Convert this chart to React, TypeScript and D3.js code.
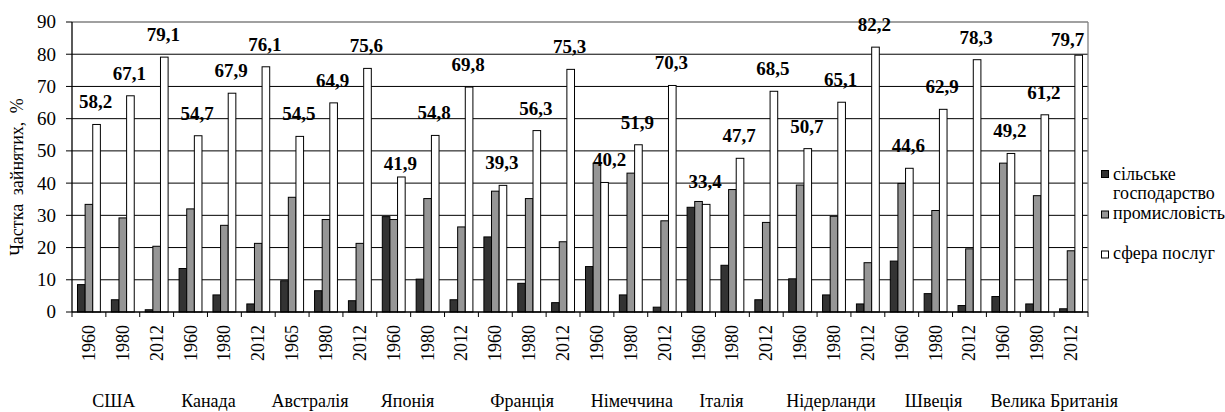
import * as d3 from 'd3'

// Частка зайнятих за секторами економіки, %
const countries = ['США', 'Канада', 'Австралія', 'Японія', 'Франція', 'Німеччина', 'Італія', 'Нідерланди', 'Швеція', 'Велика Британія']
const years = [
  '1960', '1980', '2012', '1960', '1980', '2012', '1965', '1980', '2012', '1960',
  '1980', '2012', '1960', '1980', '2012', '1960', '1980', '2012', '1960', '1980',
  '2012', '1960', '1980', '2012', '1960', '1980', '2012', '1960', '1980', '2012',
]
const agriculture = [8.5, 3.8, 0.7, 13.5, 5.3, 2.5, 9.7, 6.6, 3.5, 29.6, 10.2, 3.8, 23.3, 8.9, 2.9, 14.1, 5.3, 1.5, 32.5, 14.5, 3.8, 10.3, 5.3, 2.5, 15.8, 5.7, 2.0, 4.8, 2.5, 1.0]
const industry = [33.4, 29.2, 20.4, 32.0, 26.9, 21.3, 35.6, 28.7, 21.3, 28.7, 35.2, 26.4, 37.5, 35.2, 21.8, 46.2, 43.1, 28.3, 34.3, 38.0, 27.8, 39.4, 29.7, 15.3, 39.9, 31.5, 19.6, 46.2, 36.1, 19.0]
const services = [58.2, 67.1, 79.1, 54.7, 67.9, 76.1, 54.5, 64.9, 75.6, 41.9, 54.8, 69.8, 39.3, 56.3, 75.3, 40.2, 51.9, 70.3, 33.4, 47.7, 68.5, 50.7, 65.1, 82.2, 44.6, 62.9, 78.3, 49.2, 61.2, 79.7]
const seriesNames = ['сільське господарство', 'промисловість', 'сфера послуг']
const yTicks = [0, 10, 20, 30, 40, 50, 60, 70, 80, 90]

const W = 1225, H = 412
const M = { top: 22, right: 137, bottom: 100, left: 72 }
const FONT = "'Liberation Serif', 'Times New Roman', 'DejaVu Serif', serif"
const fills = ['#333333', '#969696', '#ffffff']

// ручні зсуви підписів (як у вихідному файлі)
const labelNudge: Record<number, [number, number]> = { 9: [0, 9], 15: [6, 0], 29: [-10, 7] }
const countryNudge = [-9, -16, -16, -20, -7, 1, -11, -3, -2, 17]

export default function App() {
  const series = [agriculture, industry, services]
  const x = d3.scaleBand<number>().domain(d3.range(years.length)).range([M.left, W - M.right]).padding(0)
  const inner = d3.scaleBand<number>().domain([0, 1, 2]).range([0, x.bandwidth()])
    .paddingInner(0).paddingOuter(0.72)
  const y = d3.scaleLinear().domain([0, 90]).range([H - M.bottom, M.top])
  const x0 = M.left, x1 = W - M.right, y0 = y(0)
  const fmt = (v: number) => v.toFixed(1).replace('.', ',')

  return (
    <div style={{ position: 'absolute', left: 0, top: 0 }}>
      <svg width={W} height={H} style={{ display: 'block', background: '#fff', fontFamily: FONT }}>
        {/* сітка */}
        {yTicks.filter((t) => t > 0 && t < 90).map((t) => (
          <line key={t} x1={x0} x2={x1} y1={y(t)} y2={y(t)} stroke="#000" strokeWidth={1} />
        ))}
        <line x1={x0} x2={x1} y1={y(90)} y2={y(90)} stroke="#808080" strokeWidth={1.3} />
        <line x1={x1} x2={x1} y1={y(90)} y2={y0} stroke="#808080" strokeWidth={1.3} />

        {/* стовпці */}
        {series.map((vals, s) => vals.map((v, i) => (
          <rect key={`${s}-${i}`} x={x(i)! + inner(s)!} y={y(v)} width={inner.bandwidth()} height={y0 - y(v)}
            fill={fills[s]} stroke="#000" strokeWidth={1} />
        )))}

        {/* вісь Y */}
        <line x1={x0} x2={x0} y1={y(90)} y2={y0} stroke="#000" strokeWidth={1.3} />
        {yTicks.map((t) => (
          <g key={t}>
            <line x1={x0 - 6} x2={x0} y1={y(t)} y2={y(t)} stroke="#000" strokeWidth={1} />
            <text x={x0 - 16} y={y(t)} dy="0.34em" textAnchor="end" fontSize={19}>{t}</text>
          </g>
        ))}
        <text transform={`translate(17,${(y(90) + y0) / 2 + 10}) rotate(-90)`} textAnchor="middle"
          dominantBaseline="central" fontSize={18} wordSpacing={4}>Частка зайнятих, %</text>

        {/* вісь X */}
        <line x1={x0} x2={x1} y1={y0} y2={y0} stroke="#000" strokeWidth={1.3} />
        {d3.range(years.length + 1).map((i) => {
          const xx = M.left + i * x.step()
          return <line key={i} x1={xx} x2={xx} y1={y0} y2={y0 + 5} stroke="#000" strokeWidth={1} />
        })}
        {years.map((yr, i) => (
          <text key={i} transform={`translate(${x(i)! + x.bandwidth() / 2},${y0 + 13}) rotate(-90)`}
            textAnchor="end" dominantBaseline="central" fontSize={18}>{yr}</text>
        ))}
        {countries.map((c, g) => (
          <text key={c} x={x(g * 3)! + x.step() * 1.5 + countryNudge[g]} y={407} textAnchor="middle" fontSize={18}>{c}</text>
        ))}

        {/* підписи значень сфери послуг */}
        {services.map((v, i) => {
          const [dx, dy] = labelNudge[i] ?? [0, 0]
          return (
            <text key={i} x={x(i)! + inner(2)! + inner.bandwidth() / 2 - 1 + dx} y={y(v) - 16 + dy}
              textAnchor="middle" fontSize={19} fontWeight="bold">{fmt(v)}</text>
          )
        })}

        {/* легенда */}
        <g transform="translate(1101,0)">
          {[174, 214.5, 254.5].map((cy, s) => (
            <rect key={s} x={0.5} y={cy - 3.5} width={7} height={7} fill={fills[s]} stroke="#000" strokeWidth={1} />
          ))}
          <text x={12} y={180} fontSize={18}>сільське</text>
          <text x={12} y={199} fontSize={18}>господарство</text>
          <text x={12} y={219} fontSize={18}>{seriesNames[1]}</text>
          <text x={12} y={259} fontSize={18}>{seriesNames[2]}</text>
        </g>
      </svg>
    </div>
  )
}
